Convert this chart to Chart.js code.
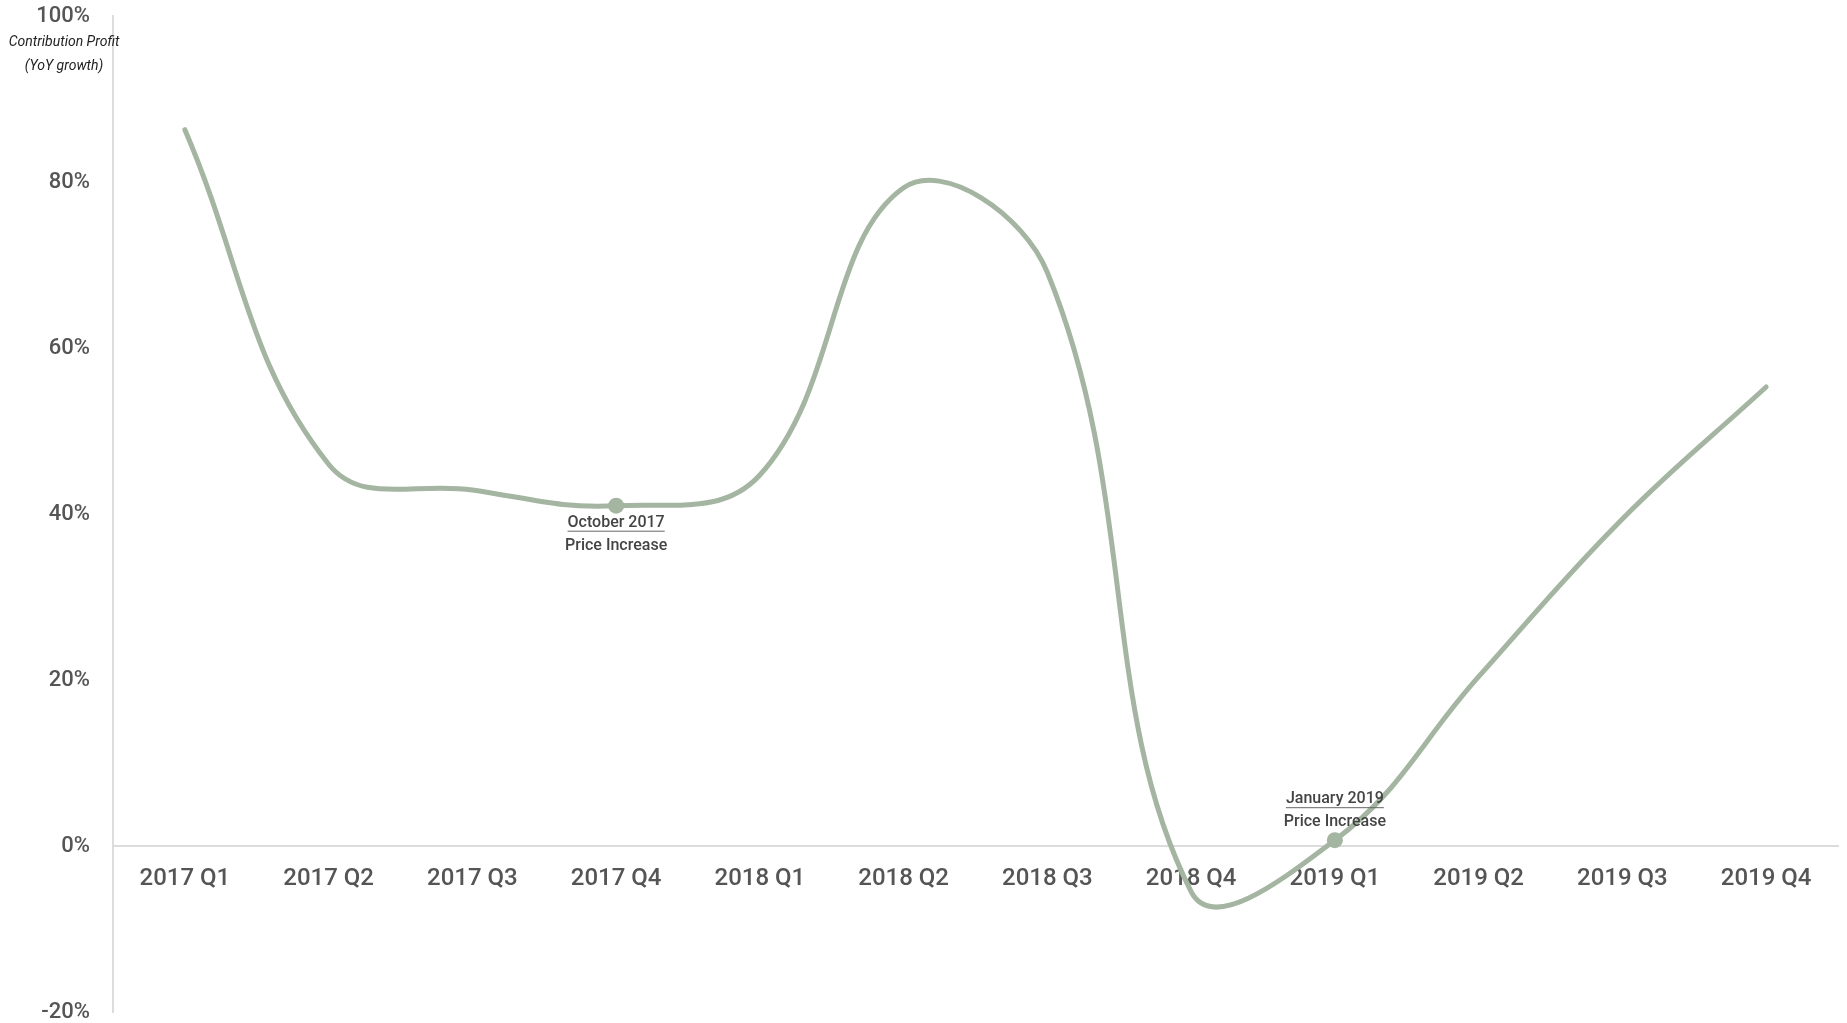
<!DOCTYPE html>
<html>
<head>
<meta charset="utf-8">
<script src="https://cdn.jsdelivr.net/npm/chart.js@4"></script>
<style>
  html, body { margin: 0; padding: 0; background: #fff; }
  #wrap { position: relative; width: 1847px; height: 1023px; }
</style>
</head>
<body>
<div id="wrap"><canvas id="chart"></canvas></div>
<script>
const quarters = ['2017 Q1', '2017 Q2', '2017 Q3', '2017 Q4', '2018 Q1', '2018 Q2',
  '2018 Q3', '2018 Q4', '2019 Q1', '2019 Q2', '2019 Q3', '2019 Q4'];
const profitGrowth = [86.3, 46.0, 42.9, 41.0, 44.7, 79.3, 69.1, -5.5, 0.7, 20.4, 39.4, 55.3];
const yTicks = [-20, 0, 20, 40, 60, 80, 100];
const axisTitle = ['Contribution Profit', '(YoY growth)'];
const eventIndex = [3, 8];
const eventLabels = [['October 2017', 'Price Increase'], ['January 2019', 'Price Increase']];

const green = '#a4b5a1';
const tickGrey = '#555555';
const fontFamily = "Roboto, 'Noto Sans', sans-serif";

// where the event captions sit relative to their point (first below, second above)
const captionOffsets = [17, -41];

const eventsPlugin = {
  id: 'events',
  afterDatasetsDraw(chart) {
    const { ctx } = chart;
    const meta = chart.getDatasetMeta(0);
    ctx.save();
    ctx.textAlign = 'center';
    ctx.textBaseline = 'middle';
    eventIndex.forEach((idx, i) => {
      const pt = meta.data[idx];
      const [head, sub] = eventLabels[i];
      const y0 = pt.y + captionOffsets[i];
      ctx.fillStyle = '#444444';
      ctx.font = `500 16px ${fontFamily}`;
      ctx.fillText(head, pt.x, y0);
      const w = ctx.measureText(head).width;
      ctx.strokeStyle = '#666666';
      ctx.lineWidth = 1;
      ctx.beginPath();
      ctx.moveTo(pt.x - w / 2, y0 + 8.5);
      ctx.lineTo(pt.x + w / 2, y0 + 8.5);
      ctx.stroke();
      ctx.fillText(sub, pt.x, y0 + 23);
    });
    ctx.restore();
  },
};

const axisTitlePlugin = {
  id: 'axisTitle',
  afterDraw(chart) {
    const { ctx, chartArea } = chart;
    ctx.save();
    ctx.fillStyle = '#222';
    ctx.font = `italic 14px ${fontFamily}`;
    ctx.textAlign = 'center';
    ctx.textBaseline = 'middle';
    const cx = chartArea.left - 49;
    ctx.fillText(axisTitle[0], cx, chartArea.top + 26, 112);
    ctx.fillText(axisTitle[1], cx, chartArea.top + 50, 80);
    ctx.restore();
  },
};

new Chart(document.getElementById('chart'), {
  type: 'line',
  data: {
    labels: quarters,
    datasets: [{
      data: profitGrowth,
      borderColor: green,
      backgroundColor: green,
      borderWidth: 5,
      borderCapStyle: 'round',
      tension: 0.4,
      pointRadius: (c) => (eventIndex.includes(c.dataIndex) ? 8 : 0),
      pointBackgroundColor: green,
      pointBorderWidth: 0,
      fill: false,
    }],
  },
  options: {
    responsive: true,
    maintainAspectRatio: false,
    animation: false,
    layout: { padding: { top: 16, bottom: 11, right: 9, left: 0 } },
    plugins: {
      legend: { display: false },
      tooltip: { enabled: false },
      title: { display: false },
    },
    scales: {
      x: {
        // axis sits on the 0% line, so it must not take room from the plot
        position: { y: 0 },
        offset: true,
        afterFit: (scale) => { scale.paddingTop = 0; scale.paddingBottom = 0; },
        grid: { display: false, drawTicks: false },
        border: { display: true, color: '#dcdcdc', width: 2 },
        ticks: {
          color: tickGrey,
          padding: 19,
          maxRotation: 0,
          autoSkip: false,
          font: { family: fontFamily, size: 24, weight: '500' },
        },
      },
      y: {
        min: -20,
        max: 100,
        afterBuildTicks: (scale) => { scale.ticks = yTicks.map((v) => ({ value: v })); },
        afterFit: (scale) => { scale.width = 113; scale.paddingTop = 0; scale.paddingBottom = 0; },
        grid: { display: false, drawTicks: false },
        border: { display: true, color: '#dcdcdc', width: 2 },
        ticks: {
          color: tickGrey,
          padding: 23,
          callback: (v) => `${v}%`,
          font: { family: fontFamily, size: 22, weight: '500' },
        },
      },
    },
  },
  plugins: [eventsPlugin, axisTitlePlugin],
});
</script>
</body>
</html>
